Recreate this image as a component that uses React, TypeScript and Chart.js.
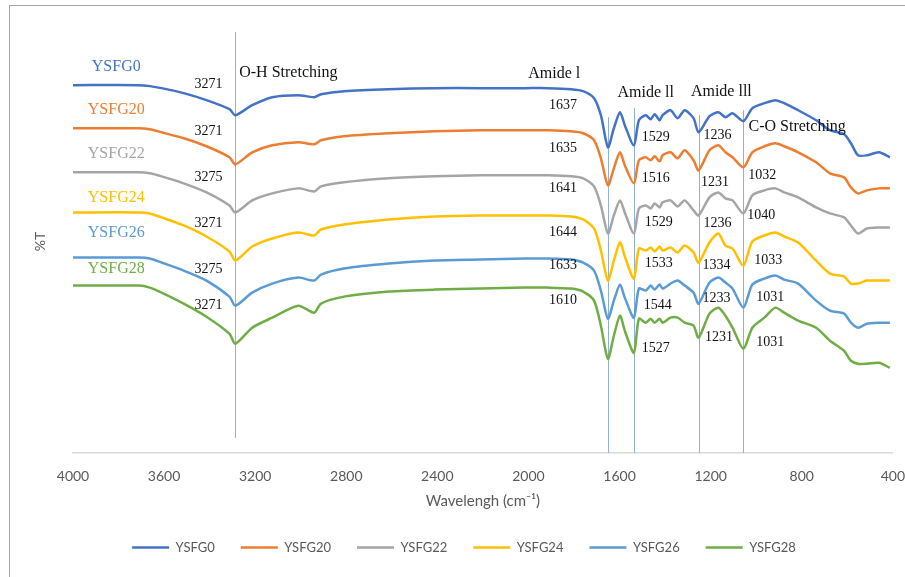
import React, { useEffect, useRef } from "react";
import { Chart, registerables } from "chart.js";

Chart.register(...registerables);

// ---- data (x: wavenumber cm-1, y: %T in arbitrary offset units) ----
const wavenumbers = [
  4000, 3711, 3663, 3611, 3514, 3414, 3313, 3287, 3213, 3125,
  3011, 2941, 2911, 2810, 2613, 2412, 2211, 2014, 1914, 1813,
  1760, 1712, 1682, 1651, 1625, 1598, 1577, 1537, 1515, 1485,
  1463, 1446, 1424, 1411, 1376, 1345, 1314, 1275, 1253, 1205,
  1166, 1135, 1104, 1056, 1017, 964, 916, 877, 816, 737,
  676, 614, 584, 553, 514, 461, 413,
];

const seriesNames = ["YSFG0", "YSFG20", "YSFG22", "YSFG24", "YSFG26", "YSFG28"];
const seriesColors = ["#4472C4", "#ED7D31", "#A5A5A5", "#FFC000", "#5B9BD5", "#70AD47"];

const ysfg0 = [
  367, 367, 366, 364, 359, 352, 343, 337, 347, 355,
  357, 355, 358, 361, 363, 364, 364, 364, 364, 363,
  361, 354, 337, 305, 324, 340, 327, 307, 332, 337,
  333, 338, 332, 337, 342, 334, 342, 334, 320, 336,
  340, 335, 339, 331, 344, 349, 352, 349, 342, 332,
  322, 318, 309, 297, 297, 300, 295,
];
const ysfg20 = [
  324, 324, 323, 320, 314, 306, 295, 288, 300, 307,
  310, 308, 312, 316, 319, 321, 322, 322, 322, 321,
  319, 312, 294, 267, 284, 300, 287, 269, 292, 295,
  292, 296, 291, 297, 300, 294, 302, 292, 282, 302,
  307, 300, 295, 285, 300, 306, 309, 306, 300, 290,
  279, 275, 265, 259, 262, 264, 264,
];
const ysfg22 = [
  280, 280, 279, 276, 269, 260, 247, 240, 252, 259,
  264, 261, 266, 270, 274, 276, 277, 277, 277, 276,
  274, 266, 247, 219, 237, 252, 240, 219, 244, 247,
  244, 249, 245, 250, 252, 246, 252, 242, 237, 255,
  260, 254, 252, 239, 257, 262, 264, 260, 255, 245,
  239, 235, 227, 219, 224, 225, 225,
];
const ysfg24 = [
  240, 240, 239, 235, 227, 216, 201, 192, 206, 214,
  220, 217, 223, 228, 233, 236, 237, 237, 237, 236,
  233, 224, 202, 172, 192, 210, 196, 174, 204, 202,
  205, 201, 206, 202, 205, 200, 207, 200, 190, 210,
  219, 207, 204, 187, 211, 217, 220, 216, 210, 192,
  179, 176, 169, 169, 172, 172, 172,
];
const ysfg26 = [
  195, 195, 194, 190, 182, 172, 156, 147, 160, 169,
  175, 172, 178, 184, 189, 192, 193, 194, 194, 193,
  190, 182, 162, 134, 152, 168, 155, 135, 164, 162,
  167, 163, 168, 164, 169, 172, 167, 160, 149, 170,
  175, 170, 164, 145, 168, 174, 177, 173, 169, 152,
  142, 139, 130, 125, 129, 130, 130,
];
const ysfg28 = [
  167, 167, 165, 160, 149, 136, 119, 109, 125, 135,
  147, 140, 149, 156, 161, 163, 164, 165, 165, 164,
  161, 152, 127, 94, 117, 137, 122, 100, 134, 130,
  134, 130, 134, 130, 135, 135, 130, 127, 115, 139,
  145, 137, 125, 104, 125, 135, 145, 140, 132, 125,
  112, 102, 92, 89, 89, 90, 85,
];
const seriesValues = [ysfg0, ysfg20, ysfg22, ysfg24, ysfg26, ysfg28];

const xTicks = [4000, 3600, 3200, 2800, 2400, 2000, 1600, 1200, 800, 400];

// ---- annotations ----
const guideWavenumbers = [3287, 1651, 1537, 1253, 1056];
const guideBottoms = [15, 0, 0, 0, 0];
const guideTops = [420, 335, 344, 337, 342];

const seriesLabelX = 3810;
const seriesLabelY = [385, 342, 298, 255, 220, 184];

const groupTitles = ["O-H Stretching", "Amide l", "Amide ll", "Amide lll", "C-O Stretching"];
const groupTitleX = [3270, 1887, 1485, 1153, 820];
const groupTitleY = [379, 378, 359, 360, 325];
const groupTitleAlign = ["left", "center", "center", "center", "center"];

const ohLabels = ["3271", "3271", "3275", "3271", "3275", "3271"];
const ohX = [3405, 3405, 3405, 3405, 3405, 3405];
const ohY = [368, 321, 275, 229, 183, 147];

const amide1Labels = ["1637", "1635", "1641", "1644", "1633", "1610"];
const amide1X = [1848, 1848, 1848, 1848, 1848, 1848];
const amide1Y = [347, 304, 264, 220, 187, 152];

const amide2Labels = ["1529", "1516", "1529", "1533", "1544", "1527"];
const amide2X = [1441, 1441, 1428, 1428, 1432, 1441];
const amide2Y = [315, 274, 230, 189, 147, 104];

const amide3Labels = ["1236", "1231", "1236", "1334", "1233", "1231"];
const amide3X = [1170, 1181, 1170, 1174, 1174, 1163];
const amide3Y = [317, 270, 229, 187, 154, 115];

const coLabels = ["1032", "1040", "1033", "1031", "1031"];
const coX = [973, 978, 947, 938, 938];
const coY = [277, 237, 192, 155, 110];

const SERIF = '"Liberation Serif", "Times New Roman", serif';
const SANS = 'Lato, "Open Sans", sans-serif';

const annotationPlugin = {
  id: "ftirAnnotations",
  afterLayout(chart: any) {
    // nudge the legend row to the right, as in the reference
    if (chart.legend) {
      chart.legend.left += 12;
      chart.legend.right += 12;
    }
  },
  beforeDatasetsDraw(chart: any) {
    const { ctx, scales } = chart;
    const x = scales.x;
    const y = scales.y;
    ctx.save();
    ctx.strokeStyle = "#8fb0d8";
    ctx.lineWidth = 1;
    guideWavenumbers.forEach((wn, i) => {
      const px = Math.round(x.getPixelForValue(wn)) + 0.5;
      ctx.beginPath();
      ctx.moveTo(px, y.getPixelForValue(guideBottoms[i]));
      ctx.lineTo(px, y.getPixelForValue(guideTops[i]));
      ctx.stroke();
    });
    ctx.restore();
  },
  afterDatasetsDraw(chart: any) {
    const { ctx, scales } = chart;
    const x = scales.x;
    const y = scales.y;
    ctx.save();
    ctx.textBaseline = "middle";
    ctx.font = `16px ${SERIF}`;
    ctx.textAlign = "center";
    seriesNames.forEach((name, i) => {
      ctx.fillStyle = seriesColors[i];
      ctx.fillText(name, x.getPixelForValue(seriesLabelX), y.getPixelForValue(seriesLabelY[i]));
    });
    ctx.fillStyle = "#111";
    groupTitles.forEach((t, i) => {
      ctx.textAlign = groupTitleAlign[i] as CanvasTextAlign;
      ctx.fillText(t, x.getPixelForValue(groupTitleX[i]), y.getPixelForValue(groupTitleY[i]));
    });
    ctx.font = `14px ${SERIF}`;
    ctx.textAlign = "center";
    const groups: [string[], number[], number[]][] = [
      [ohLabels, ohX, ohY],
      [amide1Labels, amide1X, amide1Y],
      [amide2Labels, amide2X, amide2Y],
      [amide3Labels, amide3X, amide3Y],
      [coLabels, coX, coY],
    ];
    groups.forEach(([labels, xs, ys]) => {
      labels.forEach((t, i) => {
        ctx.fillText(t, x.getPixelForValue(xs[i]), y.getPixelForValue(ys[i]));
      });
    });
    ctx.restore();
  },
};

export default function App() {
  const canvasRef = useRef<HTMLCanvasElement | null>(null);

  useEffect(() => {
    if (!canvasRef.current) return;
    const datasets = seriesNames.map((name, i) => ({
      label: name,
      data: wavenumbers.map((wn, j) => ({ x: wn, y: seriesValues[i][j] })),
      borderColor: seriesColors[i],
      backgroundColor: seriesColors[i],
      borderWidth: 2.5,
      pointRadius: 0,
      pointHoverRadius: 0,
      tension: 0.25,
      fill: false,
    }));

    const chart = new Chart(canvasRef.current, {
      type: "line",
      data: { datasets },
      plugins: [annotationPlugin],
      options: {
        responsive: false,
        animation: false,
        devicePixelRatio: 1,
        layout: { padding: { top: 30, left: 8, right: 24, bottom: 13 } },
        plugins: {
          tooltip: { enabled: false },
          legend: {
            position: "bottom",
            labels: {
              usePointStyle: true,
              pointStyle: "line",
              pointStyleWidth: 37,
              padding: 26,
              color: "#595959",
              font: { family: SANS, size: 13 },
            },
          },
        },
        scales: {
          x: {
            type: "linear",
            min: 400,
            max: 4000,
            reverse: true,
            afterBuildTicks: (scale: any) => {
              scale.ticks = xTicks.map((v) => ({ value: v }));
            },
            afterFit: (scale: any) => {
              scale.height = 62;
            },
            ticks: {
              color: "#595959",
              font: { family: SANS, size: 14 },
              padding: 15,
              maxRotation: 0,
              autoSkip: false,
              callback: (v: any) => String(v),
            },
            grid: { display: false, drawTicks: false },
            border: { display: true, color: "#d9d9d9", width: 1.5 },
            title: {
              display: true,
              text: "Wavelengh (cm\u207B\u00B9)",
              color: "#595959",
              font: { family: SANS, size: 15 },
              padding: { top: 0, bottom: 5 },
            },
          },
          y: {
            min: 0,
            max: 422,
            afterFit: (scale: any) => {
              scale.width = 65;
            },
            ticks: { display: false },
            grid: { display: false, drawTicks: false },
            border: { display: false },
            title: {
              display: true,
              text: "%T",
              color: "#595959",
              font: { family: SANS, size: 14 },
              padding: { top: 24, bottom: 0 },
            },
          },
        },
      },
    } as any);
    return () => chart.destroy();
  }, []);

  return (
    <div
      style={{
        position: "absolute",
        left: 0,
        top: 0,
        width: 905,
        height: 577,
        overflow: "hidden",
        background: "#fff",
      }}
    >
      <div
        style={{
          position: "absolute",
          left: 9,
          top: 5,
          width: 920,
          height: 600,
          borderLeft: "1px solid #a6a6a6",
          borderTop: "1px solid #a6a6a6",
        }}
      />
      <canvas
        ref={canvasRef}
        width={920}
        height={577}
        style={{ position: "absolute", left: 0, top: 0 }}
      />
    </div>
  );
}
